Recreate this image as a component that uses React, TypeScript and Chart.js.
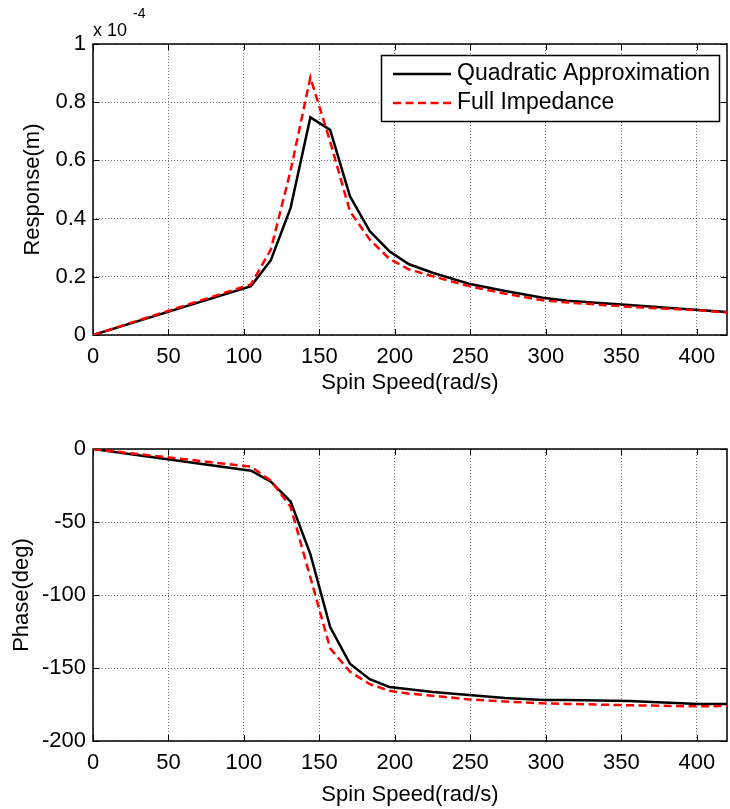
import React, { useEffect, useRef } from "react";
import { Chart, registerables } from "chart.js";

Chart.register(...registerables);

// Spin speed (rad/s)
const speed = [0, 104.7, 117.8, 130.9, 144.0, 157.1, 170.2, 183.3, 196.3, 209.4, 225, 249, 273, 298, 314, 355, 401, 420];
// Response (x 1e-4 m)
const respQuad = [0, 0.168, 0.257, 0.437, 0.748, 0.705, 0.477, 0.357, 0.288, 0.243, 0.214, 0.176, 0.151, 0.128, 0.118, 0.103, 0.086, 0.079];
const respFull = [0, 0.174, 0.294, 0.565, 0.885, 0.665, 0.425, 0.328, 0.262, 0.225, 0.202, 0.168, 0.142, 0.119, 0.112, 0.097, 0.085, 0.077];
// Phase (deg)
const phaseQuad = [0, -14.9, -22.4, -36, -72, -122, -147, -157.7, -163, -164.6, -166.5, -168.5, -170.5, -171.9, -171.9, -172.6, -174.7, -174.7];
const phaseFull = [0, -12.1, -21.7, -39.5, -88, -136.5, -152.5, -161, -165.6, -167.6, -169, -171.5, -173, -174.2, -174.6, -175.5, -176.3, -176];

const seriesNames = ["Quadratic Approximation", "Full Impedance"];
const xTitle = "Spin Speed(rad/s)";
const yTitleTop = "Response(m)";
const yTitleBottom = "Phase(deg)";

const FONT = "'Liberation Sans', Arial, Helvetica, sans-serif";
const W = 730;

const pts = (ys: number[]) => speed.map((x, i) => ({ x, y: ys[i] }));

const framePlugin = {
  id: "frame",
  beforeDatasetsDraw(chart: any) {
    const { ctx, chartArea: a, scales } = chart;
    const xs = scales.x;
    const ys = scales.y;
    ctx.save();
    ctx.strokeStyle = "#000";
    ctx.lineWidth = 1;
    ctx.beginPath();
    xs.ticks.forEach((t: any) => {
      const p = Math.round(xs.getPixelForValue(t.value)) + 0.5;
      ctx.moveTo(p, a.bottom);
      ctx.lineTo(p, a.bottom - 6);
      ctx.moveTo(p, a.top);
      ctx.lineTo(p, a.top + 6);
    });
    ys.ticks.forEach((t: any) => {
      const p = Math.round(ys.getPixelForValue(t.value)) + 0.5;
      ctx.moveTo(a.left, p);
      ctx.lineTo(a.left + 6, p);
      ctx.moveTo(a.right, p);
      ctx.lineTo(a.right - 6, p);
    });
    ctx.stroke();
    ctx.lineWidth = 1.5;
    ctx.strokeRect(a.left, a.top, a.right - a.left, a.bottom - a.top);
    ctx.restore();
  },
};

const legendPlugin = {
  id: "matlabLegend",
  afterDraw(chart: any) {
    const { ctx } = chart;
    ctx.save();
    const bx = 381.5, by = 55.5, bw = 338, bh = 66;
    ctx.fillStyle = "#fff";
    ctx.fillRect(bx, by, bw, bh);
    ctx.strokeStyle = "#000";
    ctx.lineWidth = 1.5;
    ctx.strokeRect(bx, by, bw, bh);
    // black sample
    ctx.lineWidth = 2.5;
    ctx.beginPath();
    ctx.moveTo(393, 74);
    ctx.lineTo(451, 74);
    ctx.stroke();
    // red sample
    ctx.strokeStyle = "#ff0000";
    ctx.setLineDash([8, 4.5]);
    ctx.beginPath();
    ctx.moveTo(393, 103);
    ctx.lineTo(451, 103);
    ctx.stroke();
    ctx.setLineDash([]);
    ctx.fillStyle = "#000";
    ctx.font = `23px ${FONT}`;
    ctx.textBaseline = "middle";
    ctx.textAlign = "left";
    ctx.fillText(seriesNames[0], 457, 74);
    ctx.fillText(seriesNames[1], 457, 103);
    // exponent label
    ctx.font = `18px ${FONT}`;
    ctx.textBaseline = "alphabetic";
    ctx.fillText("x 10", 93, 36);
    ctx.font = `14px ${FONT}`;
    ctx.fillText("-4", 133, 18);
    ctx.restore();
  },
};

function makeScales(opts: {
  yMin: number; yMax: number; yStep: number; xAxisH: number; xTitlePad: number; yTitlePad: number; yTitle: string;
}) {
  const font = { family: FONT, size: 22 };
  const grid = { color: "rgba(0,0,0,0.55)", lineWidth: 1, drawTicks: false };
  const border = { display: false, dash: [1, 2] };
  return {
    x: {
      type: "linear" as const,
      min: 0,
      max: 420,
      ticks: { stepSize: 50, includeBounds: false, autoSkip: false, maxRotation: 0, padding: 9, color: "#000", font },
      grid,
      border,
      title: { display: true, text: xTitle, color: "#000", font, padding: { top: 0, bottom: opts.xTitlePad } },
      afterFit: (s: any) => { s.height = opts.xAxisH; },
    },
    y: {
      type: "linear" as const,
      min: opts.yMin,
      max: opts.yMax,
      ticks: {
        stepSize: opts.yStep,
        includeBounds: false,
        autoSkip: false,
        padding: 7,
        color: "#000",
        font,
        callback: (v: any) => String(Number(Number(v).toFixed(2))),
      },
      grid,
      border,
      title: { display: true, text: opts.yTitle, color: "#000", font, padding: { top: opts.yTitlePad, bottom: 0 } },
      afterFit: (s: any) => { s.width = 93; },
    },
  };
}

export default function App() {
  const topRef = useRef<HTMLCanvasElement>(null);
  const botRef = useRef<HTMLCanvasElement>(null);

  useEffect(() => {
    const common = (ys1: number[], ys2: number[]) => ({
      datasets: [
        { label: seriesNames[1], data: pts(ys2), borderColor: "#ff0000", borderWidth: 2.5, borderDash: [8, 4.5], pointRadius: 0, tension: 0, fill: false, order: 0 },
        { label: seriesNames[0], data: pts(ys1), borderColor: "#000000", borderWidth: 2.5, pointRadius: 0, tension: 0, fill: false, order: 1 },
      ],
    });

    const top = new Chart(topRef.current!, {
      type: "line",
      data: common(respQuad, respFull),
      options: {
        animation: false,
        responsive: false,
        maintainAspectRatio: false,
        layout: { padding: { left: 0, right: 3, top: 44, bottom: 0 } },
        plugins: { legend: { display: false }, tooltip: { enabled: false } },
        scales: makeScales({ yMin: 0, yMax: 1, yStep: 0.2, xAxisH: 65, xTitlePad: 4, yTitlePad: 20, yTitle: yTitleTop }) as any,
      },
      plugins: [framePlugin, legendPlugin],
    });

    const bot = new Chart(botRef.current!, {
      type: "line",
      data: common(phaseQuad, phaseFull),
      options: {
        animation: false,
        responsive: false,
        maintainAspectRatio: false,
        layout: { padding: { left: 0, right: 3, top: 49, bottom: 0 } },
        plugins: { legend: { display: false }, tooltip: { enabled: false } },
        scales: makeScales({ yMin: -200, yMax: 0, yStep: 50, xAxisH: 68, xTitlePad: 1, yTitlePad: 9, yTitle: yTitleBottom }) as any,
      },
      plugins: [framePlugin],
    });

    return () => {
      top.destroy();
      bot.destroy();
    };
  }, []);

  return (
    <div style={{ position: "fixed", left: 0, top: 0, width: W, height: 809, background: "#fff" }}>
      <canvas ref={topRef} width={W} height={400} style={{ position: "absolute", left: 0, top: 0, display: "block" }} />
      <canvas ref={botRef} width={W} height={409} style={{ position: "absolute", left: 0, top: 400, display: "block" }} />
    </div>
  );
}
